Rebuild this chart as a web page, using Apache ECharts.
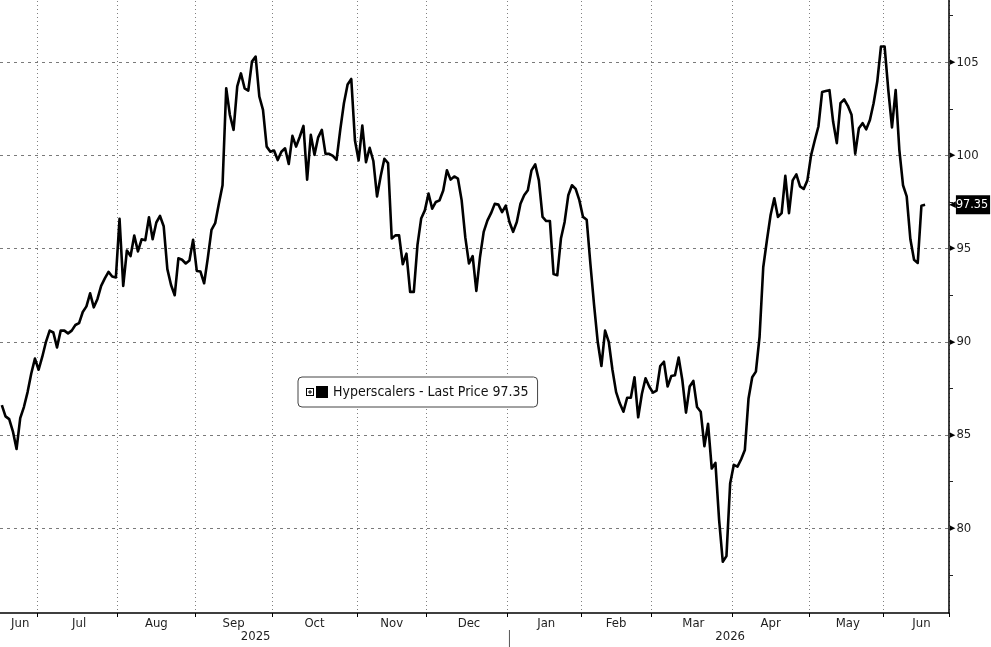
<!DOCTYPE html>
<html>
<head>
<meta charset="utf-8">
<script src="https://cdn.jsdelivr.net/npm/echarts@6/dist/echarts.min.js"></script>
<style>
html,body{margin:0;padding:0;background:#fff;}
#chart{width:991px;height:647px;}
</style>
</head>
<body>
<div id="chart"></div>
<script>
// ---- data ----
const seriesName = 'Hyperscalers';
const lastPrice = 97.35;
const startDate = '2025-06-16';
const endCalendar = '2026-06-30';
const slotCount = 258; // trading-day slots shown on the axis
const holidays = ['2025-06-19','2025-07-04','2025-09-01','2025-11-27','2025-12-25',
  '2026-01-01','2026-01-19','2026-02-16','2026-04-03','2026-05-25','2026-06-19'];
const monthNames = ['Jan','Feb','Mar','Apr','May','Jun','Jul','Aug','Sep','Oct','Nov','Dec'];
const yTicksMajor = [80, 85, 90, 95, 100, 105];
const values = [
  86.6, 86.0, 85.85, 85.2, 84.25, 85.9, 86.5, 87.3, 88.3, 89.1,
  88.5, 89.2, 90.0, 90.6, 90.5, 89.7, 90.6, 90.6, 90.45, 90.6,
  90.9, 91.0, 91.6, 91.9, 92.6, 91.85, 92.3, 93.0, 93.4, 93.75,
  93.5, 93.45, 96.6, 93.0, 94.9, 94.6, 95.7, 94.85, 95.5, 95.45,
  96.68, 95.5, 96.4, 96.75, 96.2, 93.9, 93.05, 92.5, 94.48, 94.4,
  94.2, 94.36, 95.47, 93.8, 93.77, 93.14, 94.5, 96.0, 96.36, 97.4,
  98.4, 103.6, 102.17, 101.37, 103.7, 104.4, 103.6, 103.48, 105.03, 105.3,
  103.16, 102.44, 100.47, 100.2, 100.26, 99.75, 100.2, 100.38, 99.54, 101.05,
  100.47, 101.0, 101.58, 98.7, 101.1, 100.03, 100.97, 101.37, 100.08, 100.08,
  99.97, 99.76, 101.37, 102.8, 103.8, 104.1, 100.8, 99.73, 101.6, 99.64,
  100.41, 99.7, 97.8, 98.9, 99.82, 99.59, 95.54, 95.71, 95.71, 94.16,
  94.73, 92.68, 92.68, 95.2, 96.61, 97.05, 97.95, 97.14, 97.5, 97.59,
  98.12, 99.2, 98.7, 98.87, 98.75, 97.6, 95.6, 94.2, 94.6, 92.73,
  94.55, 95.9, 96.5, 96.9, 97.4, 97.36, 96.96, 97.3, 96.43, 95.9,
  96.43, 97.4, 97.86, 98.13, 99.2, 99.52, 98.66, 96.7, 96.48, 96.48,
  93.63, 93.57, 95.54, 96.43, 97.86, 98.4, 98.2, 97.6, 96.7, 96.55,
  94.2, 92.0, 90.0, 88.7, 90.6, 90.0, 88.5, 87.3, 86.7, 86.25,
  87.0, 87.0, 88.1, 85.95, 87.2, 88.04, 87.6, 87.27, 87.38, 88.7,
  88.93, 87.6, 88.16, 88.2, 89.16, 87.95, 86.2, 87.6, 87.9, 86.5,
  86.25, 84.4, 85.6, 83.2, 83.5, 80.45, 78.2, 78.5, 82.4, 83.4,
  83.3, 83.7, 84.2, 86.96, 88.1, 88.4, 90.27, 94.0, 95.45, 96.8,
  97.7, 96.7, 96.9, 98.9, 96.9, 98.66, 98.98, 98.34, 98.2, 98.66,
  100.0, 100.8, 101.55, 103.4, 103.45, 103.5, 101.8, 100.66, 102.8, 103.0,
  102.66, 102.18, 100.09, 101.46, 101.73, 101.4, 101.9, 102.8, 103.96, 105.84,
  105.84, 103.5, 101.5, 103.5, 100.3, 98.4, 97.8, 95.5, 94.4, 94.23,
  97.3, 97.35
];

// ---- trading-day categories ----
const allDates = [];
{
  const [y0, m0, d0] = startDate.split('-').map(Number);
  const [y1, m1, d1] = endCalendar.split('-').map(Number);
  let t = Date.UTC(y0, m0 - 1, d0);
  const tEnd = Date.UTC(y1, m1 - 1, d1);
  while (t <= tEnd) {
    const dt = new Date(t);
    const s = dt.toISOString().slice(0, 10);
    const wd = dt.getUTCDay();
    if (wd !== 0 && wd !== 6 && holidays.indexOf(s) < 0) allDates.push(s);
    t += 86400000;
  }
}
const categories = allDates.slice(0, slotCount);

// month groups (whole month spans, clipped at start)
const monthStart = new Set();
const monthMid = new Set();
{
  let gStart = 0;
  for (let i = 1; i <= allDates.length; i++) {
    if (i === allDates.length || allDates[i].slice(0, 7) !== allDates[gStart].slice(0, 7)) {
      const mid = Math.round((gStart + i - 1) / 2);
      if (mid < slotCount) monthMid.add(mid);
      if (gStart > 0 && gStart < slotCount) monthStart.add(gStart);
      gStart = i;
    }
  }
}
// year groups (visible span)
const yearStart = new Set();
const yearMid = new Set();
{
  let gStart = 0;
  for (let i = 1; i <= categories.length; i++) {
    if (i === categories.length || categories[i].slice(0, 4) !== categories[gStart].slice(0, 4)) {
      yearMid.add(Math.round((gStart + i - 1) / 2));
      if (gStart > 0) yearStart.add(gStart);
      gStart = i;
    }
  }
}

const FONT = "'DejaVu Sans Condensed', 'Liberation Sans', Arial, sans-serif";
const TXT = '#1e1e1e';

const iconPath = 'path://M0 2H8V10H0Z M1 3V9H7V3Z M2 5.5H6V6.5H2Z M3.5 4H4.5V8H3.5Z M10 0H22V12H10Z';

const chart = echarts.init(document.getElementById('chart'), null, {renderer: 'canvas'});
chart.setOption({
  animation: false,
  backgroundColor: '#ffffff',
  grid: {left: 0, right: 42, top: -31, bottom: 34, containLabel: false, outerBoundsMode: 'none'},
  legend: {
    left: 298, top: 377,
    selectedMode: false,
    padding: [8, 9, 8, 8],
    borderColor: '#444', borderWidth: 1, borderRadius: 4,
    backgroundColor: '#fff',
    itemWidth: 22, itemHeight: 12, itemGap: 4,
    data: [{name: seriesName, icon: iconPath}],
    itemStyle: {color: '#000', borderWidth: 0},
    formatter: (n) => n + ' - Last Price ' + lastPrice.toFixed(2),
    textStyle: {fontFamily: FONT, fontSize: 14, color: '#111'}
  },
  xAxis: [{
    type: 'category',
    data: categories,
    boundaryGap: true,
    axisLine: {show: true, lineStyle: {color: '#000', width: 1.5}},
    axisTick: {show: true, length: 4, interval: (i) => monthStart.has(i), lineStyle: {color: '#000', width: 1}},
    axisLabel: {
      interval: (i) => monthMid.has(i),
      formatter: (v) => monthNames[Number(v.slice(5, 7)) - 1],
      margin: 4, fontFamily: FONT, fontSize: 13, color: TXT
    },
    splitLine: {show: true, interval: (i) => monthStart.has(i), lineStyle: {color: '#808080', width: 1, type: [1, 3]}}
  }, {
    type: 'category',
    data: categories,
    boundaryGap: true,
    position: 'bottom',
    offset: 17,
    axisLine: {show: false},
    axisTick: {show: false},
    axisLabel: {
      interval: (i) => yearMid.has(i) || yearStart.has(i),
      formatter: (v, i) => yearStart.has(i) ? '{sep|}' : v.slice(0, 4),
      margin: 0, fontFamily: FONT, fontSize: 13, color: TXT,
      rich: {sep: {width: 1, height: 17, backgroundColor: '#555'}}
    },
    splitLine: {show: false}
  }],
  yAxis: {
    type: 'value',
    position: 'right',
    min: 75.45,
    max: 110,
    splitNumber: 7,
    axisLine: {show: true, lineStyle: {color: '#000', width: 1.5}},
    axisTick: {show: false},
    minorTick: {show: true, splitNumber: 2, length: 4, lineStyle: {color: '#222', width: 1}},
    axisLabel: {
      showMinLabel: false, showMaxLabel: false,
      margin: 1,
      formatter: (v) => yTicksMajor.indexOf(v) >= 0 ? '{t|\u25B6}{v|' + v + '}' : '',
      rich: {
        t: {fontSize: 7, color: '#000', fontFamily: 'DejaVu Sans', padding: [0, 1, 0, 0]},
        v: {fontSize: 13, color: TXT, fontFamily: FONT}
      }
    },
    splitLine: {show: true, showMinLine: false, showMaxLine: false, lineStyle: {color: '#7a7a7a', width: 1, type: [3, 4]}}
  },
  series: [{
    name: seriesName,
    type: 'line',
    data: values,
    xAxisIndex: 0,
    symbol: 'none',
    showSymbol: false,
    smooth: false,
    lineStyle: {color: '#000', width: 2.6, join: 'round'},
    itemStyle: {color: '#000'},
    markLine: {
      silent: true,
      symbol: 'none',
      animation: false,
      lineStyle: {color: 'rgba(0,0,0,0)', width: 1, type: 'solid'},
      label: {
        show: true,
        position: 'end',
        distance: 0,
        formatter: () => '{a|\u25C0}{b|' + lastPrice.toFixed(2) + '}',
        rich: {
          a: {fontSize: 9, color: '#000', fontFamily: 'DejaVu Sans'},
          b: {fontSize: 12.5, color: '#fff', backgroundColor: '#000', fontFamily: FONT, padding: [3, 2, 3, 0]}
        }
      },
      data: [{yAxis: lastPrice}]
    }
  }]
});
</script>
</body>
</html>
